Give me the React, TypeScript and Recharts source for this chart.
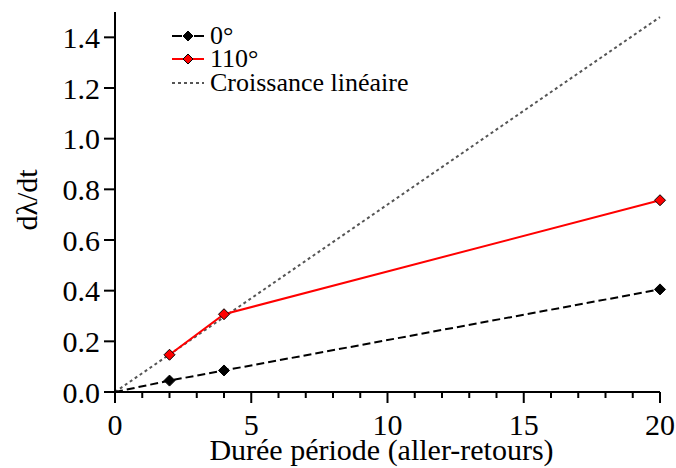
import React from 'react';
import { LineChart, Line, XAxis, YAxis, Legend, Label } from 'recharts';

// values
const periods0 = [0, 2, 4, 20];
const rate0 = [0, 0.045, 0.085, 0.405];
const periods110 = [2, 4, 20];
const rate110 = [0.147, 0.307, 0.757];
const linearPeriods = [0, 20];
const linearRate = [0, 1.48];

const xTicks = [0, 1, 2, 3, 4, 5, 6, 7, 8, 9, 10, 11, 12, 13, 14, 15, 16, 17, 18, 19, 20];
const xMajorTicks = [0, 5, 10, 15, 20];
const yTicks = [0, 0.2, 0.4, 0.6, 0.8, 1.0, 1.2, 1.4];

const seriesNames = ['0°', '110°', 'Croissance linéaire'];
const xTitle = 'Durée période (aller-retours)';
const yTitle = 'dλ/dt';

const FONT = 'Liberation Serif';

const data0 = periods0.map((x, i) => ({ x, y: rate0[i] }));
const data110 = periods110.map((x, i) => ({ x, y: rate110[i] }));
const dataLinear = linearPeriods.map((x, i) => ({ x, y: linearRate[i] }));

const diamond = (cx: number, cy: number, r: number, fill: string, key?: any) => (
  <polygon
    key={key}
    points={`${cx},${cy - r} ${cx + r},${cy} ${cx},${cy + r} ${cx - r},${cy}`}
    fill={fill}
    stroke="#000"
    strokeWidth={1}
  />
);

// no marker at the origin point of the 0° curve
const blackDot = (props: any) => {
  const { cx, cy, payload, index } = props;
  if (payload.x === 0) return <g key={`b${index}`} />;
  return diamond(cx, cy, 5.5, '#000', `b${index}`);
};

const redDot = (props: any) => {
  const { cx, cy, index } = props;
  return diamond(cx, cy, 5.5, '#ff0000', `r${index}`);
};

const XTick = (props: any) => {
  const { x, y, payload } = props;
  const major = xMajorTicks.includes(payload.value);
  return (
    <g>
      <line x1={x} y1={y} x2={x} y2={y + (major ? 11 : 6)} stroke="#000" strokeWidth={2} />
      {major && (
        <text
          x={x}
          y={y + 43}
          textAnchor="middle"
          fontSize={30}
          fontFamily={FONT}
          style={{ fontFamily: FONT }}
          fill="#000"
        >
          {payload.value}
        </text>
      )}
    </g>
  );
};

const YTick = (props: any) => {
  const { x, y, payload } = props;
  return (
    <text
      x={x}
      y={y}
      dy={10.5}
      textAnchor="end"
      fontSize={30}
      fontFamily={FONT}
      style={{ fontFamily: FONT }}
      fill="#000"
    >
      {payload.value.toFixed(1)}
    </text>
  );
};

const renderLegend = () => (
  <div style={{ fontFamily: FONT, fontSize: 26, color: '#000' }}>
    {seriesNames.map((name, i) => (
      <div key={name} style={{ display: 'flex', alignItems: 'center', height: 23.5, whiteSpace: 'nowrap' }}>
        <svg width={33} height={14} style={{ marginRight: 5 }}>
          {i === 0 && (
            <>
              <line x1={0} y1={7} x2={32} y2={7} stroke="#000" strokeWidth={2} strokeDasharray="10 12" />
              {diamond(16, 7, 5, '#000')}
            </>
          )}
          {i === 1 && (
            <>
              <line x1={0} y1={7} x2={32} y2={7} stroke="#ff0000" strokeWidth={2} />
              {diamond(16, 7, 5, '#ff0000')}
            </>
          )}
          {i === 2 && (
            <line x1={0} y1={7} x2={32} y2={7} stroke="#555" strokeWidth={2} strokeDasharray="3 3" />
          )}
        </svg>
        <span>{name}</span>
      </div>
    ))}
  </div>
);

export default function App() {
  return (
    <div style={{ position: 'absolute', left: 0, top: 0, background: '#fff' }}>
      <LineChart width={676} height={468} margin={{ top: 12, right: 16, left: 0, bottom: 0 }}>
        <XAxis
          dataKey="x"
          type="number"
          domain={[0, 20]}
          ticks={xTicks}
          interval={0}
          tick={<XTick />}
          tickLine={false}
          tickSize={0}
          tickMargin={0}
          height={76}
          axisLine={{ stroke: '#000', strokeWidth: 2 }}
          allowDuplicatedCategory={false}
        >
          <Label
            content={(p: any) => (
              <text
                x={p.viewBox.x + p.viewBox.width / 2 - 6}
                y={p.viewBox.y + 68}
                textAnchor="middle"
                fontSize={30}
                fontFamily={FONT}
                style={{ fontFamily: FONT }}
                fill="#000"
              >
                {xTitle}
              </text>
            )}
          />
        </XAxis>
        <YAxis
          type="number"
          domain={[0, 1.5]}
          ticks={yTicks}
          interval={0}
          width={115}
          tickSize={11}
          tickMargin={4}
          tick={<YTick />}
          tickLine={{ stroke: '#000', strokeWidth: 2 }}
          axisLine={{ stroke: '#000', strokeWidth: 2 }}
        >
          <Label
            content={(p: any) => {
              const cx = 37;
              const cy = p.viewBox.y + p.viewBox.height / 2 - 2;
              return (
                <text
                  x={cx}
                  y={cy}
                  transform={`rotate(-90, ${cx}, ${cy})`}
                  textAnchor="middle"
                  fontSize={30}
                  fontFamily={FONT}
                  style={{ fontFamily: FONT }}
                  fill="#000"
                >
                  {yTitle}
                </text>
              );
            }}
          />
        </YAxis>
        <Legend
          layout="vertical"
          align="center"
          verticalAlign="middle"
          content={renderLegend}
          wrapperStyle={{ left: 172, top: 24, width: 'auto' }}
        />
        <Line
          data={dataLinear}
          dataKey="y"
          name={seriesNames[2]}
          stroke="#555"
          strokeWidth={2}
          strokeDasharray="3 3"
          dot={false}
          activeDot={false}
          isAnimationActive={false}
        />
        <Line
          data={data0}
          dataKey="y"
          name={seriesNames[0]}
          stroke="#000"
          strokeWidth={2}
          strokeDasharray="8 4"
          dot={blackDot}
          activeDot={false}
          isAnimationActive={false}
        />
        <Line
          data={data110}
          dataKey="y"
          name={seriesNames[1]}
          stroke="#ff0000"
          strokeWidth={2}
          dot={redDot}
          activeDot={false}
          isAnimationActive={false}
        />
      </LineChart>
    </div>
  );
}
